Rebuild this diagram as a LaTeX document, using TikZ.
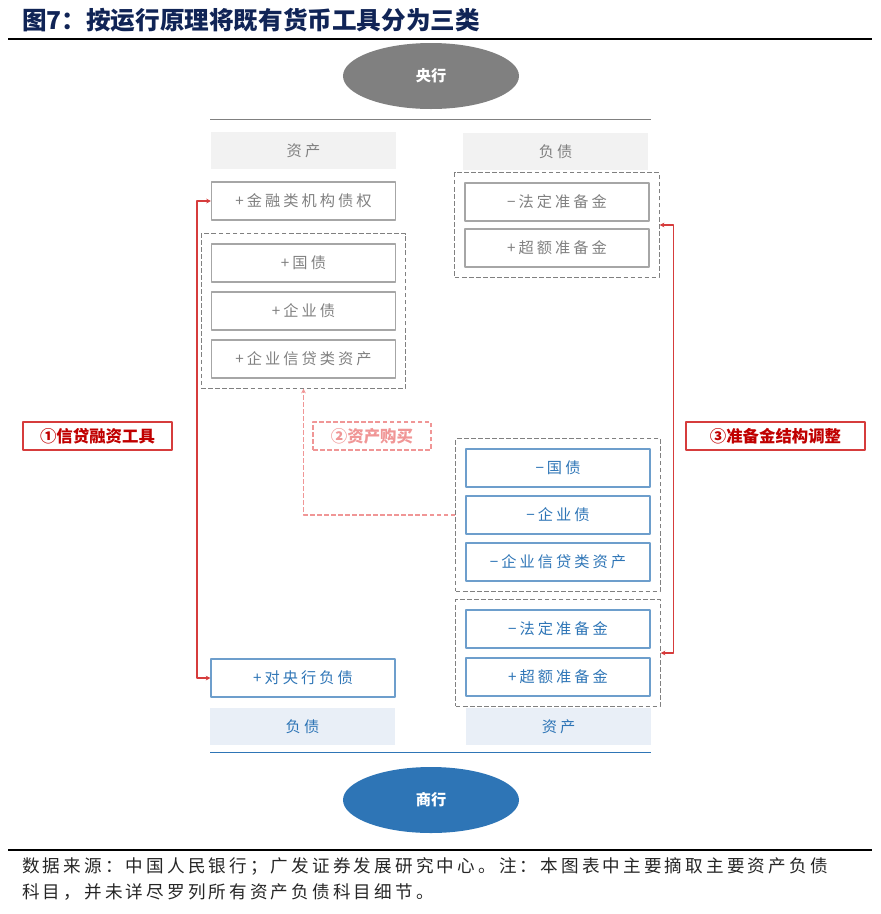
\documentclass[tikz,border=0pt]{standalone}
\usepackage{fontspec}
\setmainfont{Noto Sans CJK SC}
\usepackage{xcolor}
\usetikzlibrary{arrows.meta,fit,shapes.geometric}

\definecolor{titleblue}{RGB}{16,36,86}
\definecolor{boxgray}{RGB}{128,128,128}
\definecolor{edgegray}{RGB}{166,166,166}
\definecolor{headgray}{RGB}{242,242,242}
\definecolor{cbblue}{RGB}{46,117,182}
\definecolor{headblue}{RGB}{233,239,247}
\definecolor{darkred}{RGB}{192,0,0}
\definecolor{linkred}{RGB}{214,60,60}
\definecolor{pinkred}{RGB}{240,150,150}

\begin{document}
\begin{tikzpicture}[x=0.03cm,y=-0.03cm,>={Stealth[length=4pt,width=4pt]},line join=round,
  item/.style={draw=edgegray,line width=0.9pt,text=boxgray,minimum width=5.52cm,minimum height=1.14cm,
    inner sep=0pt,font=\fontsize{13}{15}\selectfont\addfontfeature{LetterSpace=20}},
  itemblue/.style={item,draw=cbblue!70,text=cbblue},
  head/.style={fill=headgray,text=boxgray,minimum width=5.52cm,minimum height=1.12cm,inner sep=0pt,
    font=\fontsize{13}{15}\selectfont\addfontfeature{LetterSpace=20}},
  headblue/.style={head,fill=headblue,text=cbblue},
  group/.style={draw=boxgray,dash pattern=on 4pt off 2pt,line width=0.9pt,inner sep=0.29cm},
  bank/.style={ellipse,minimum width=5.28cm,minimum height=1.98cm,text=white,
    font=\fontsize{13}{15}\selectfont\bfseries},
  tag/.style={draw=linkred,line width=0.9pt,text=darkred,minimum height=0.84cm,inner sep=0pt,
    font=\fontsize{14}{16}\selectfont\bfseries},
  link/.style={linkred,line width=1pt,<->}]
  \useasboundingbox (0,0) rectangle (881,914);

  % title and rules
  \node[anchor=west,text=titleblue,font=\fontsize{21}{23}\selectfont\bfseries] (title) at (18,20) {图7：按运行原理将既有货币工具分为三类};
  \draw[line width=1pt] (8,39) -- (872,39);
  \draw[line width=1pt] (8,850) -- (872,850);

  % central bank
  \node[bank,fill=boxgray] (cb) at (431,76) {央行};
  \draw[boxgray,line width=0.8pt] (210,119) -- (651,119);
  \node[head] (cbA) at (303.5,150.5) {资产};
  \node[head] (cbL) at (555.5,151.5) {负债};
  \node[item] (fin) at (303.5,201) {+金融类机构债权};
  \node[item] (gov) at (303.5,263) {+国债};
  \node[item] (corp) at (303.5,311) {+企业债};
  \node[item] (loan) at (303.5,359) {+企业信贷类资产};
  \node[group,fit=(gov)(loan)] (lgrp) {};
  \node[item] (rrq) at (557,202) {−法定准备金};
  \node[item] (rex) at (557,248) {+超额准备金};
  \node[group,fit=(rrq)(rex)] (rtop) {};

  % commercial bank
  \node[itemblue] (owe) at (303,678) {+对央行负债};
  \node[itemblue] (sgov) at (558,468) {−国债};
  \node[itemblue] (scorp) at (558,515) {−企业债};
  \node[itemblue] (sloan) at (558,562) {−企业信贷类资产};
  \node[group,fit=(sgov)(sloan)] (rmid) {};
  \node[itemblue] (srrq) at (558,629) {−法定准备金};
  \node[itemblue] (srex) at (558,677) {+超额准备金};
  \node[group,fit=(srrq)(srex)] (rbot) {};
  \node[headblue] (cbkL) at (302.5,726.5) {负债};
  \node[headblue] (cbkA) at (558.5,726.5) {资产};
  \draw[cbblue,line width=0.8pt] (210,752) -- (651,752);
  \node[bank,fill=cbblue] (cbk) at (431,800) {商行};

  % channels
  \draw[link] (fin.west) -- ++(-14,0) |- (owe.west);
  \draw[link] (rtop.east) -- ++(14,0) |- (rbot.east);
  \draw[pinkred,line width=1pt,dash pattern=on 4pt off 2pt,->] (rmid.west) -| (lgrp.south);
  \node[tag,minimum width=4.47cm] (t1) at (97.5,436) {①信贷融资工具};
  \node[tag,draw=pinkred,dash pattern=on 4pt off 2pt,text=pinkred,minimum width=3.54cm] (t2) at (372,436) {②资产购买};
  \node[tag,minimum width=5.37cm] (t3) at (775.5,436) {③准备金结构调整};

  % source note
  \node[anchor=west,text=black!85,font=\fontsize{15}{17}\selectfont\addfontfeature{LetterSpace=18}] (src1) at (18,866) {数据来源：中国人民银行；广发证券发展研究中心。注：本图表中主要摘取主要资产负债};
  \node[anchor=west,text=black!85,font=\fontsize{15}{17}\selectfont\addfontfeature{LetterSpace=18}] (src2) at (18,892) {科目，并未详尽罗列所有资产负债科目细节。};
\end{tikzpicture}
\end{document}
